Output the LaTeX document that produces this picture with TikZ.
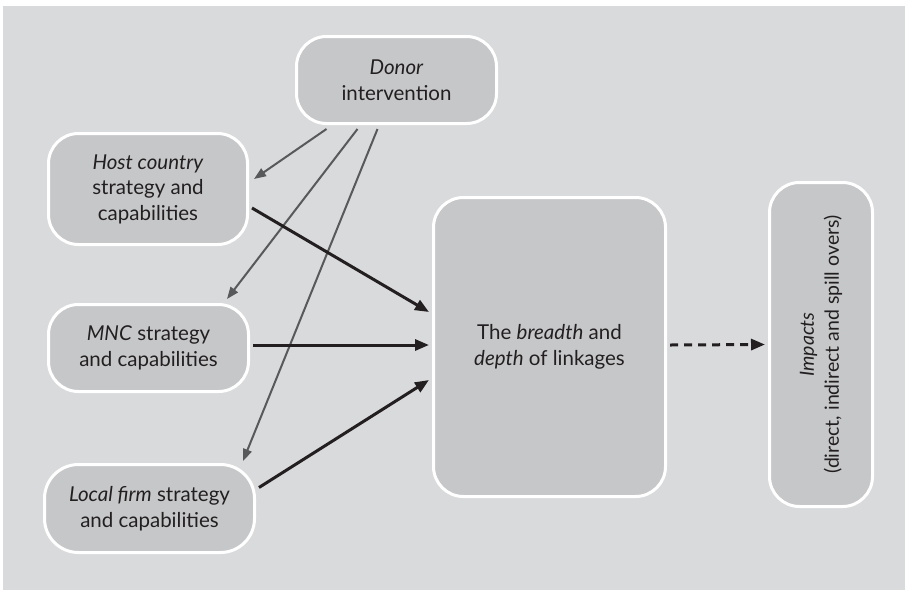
\documentclass[tikz,border=0pt]{standalone}
\usepackage{fontspec}
\setmainfont{Lato}
\usetikzlibrary{arrows.meta,calc}
\definecolor{bg}{HTML}{D9DADC}
\definecolor{boxfill}{HTML}{C6C7C9}
\definecolor{ink}{HTML}{231F20}
\definecolor{thin}{HTML}{58595B}
\begin{document}
\begin{tikzpicture}[x=1pt,y=-1pt,
  box/.style={rectangle, rounded corners=30pt, draw=white, line width=3pt, fill=boxfill,
    text=ink, align=center, inner sep=0pt, font=\fontsize{20.5}{25.5}\selectfont},
  thinarrow/.style={draw=thin, line width=2pt, -{Triangle[length=12pt,width=9pt]}},
  thickarrow/.style={draw=ink, line width=3pt, -{Triangle[length=14pt,width=11pt]}},
  dasharrow/.style={draw=ink, line width=3pt, dash pattern=on 8pt off 6pt,
    -{Triangle[length=14pt,width=11pt]}}]
\useasboundingbox (0,0) rectangle (905,590);
\fill[white] (0,0) rectangle (905,590);
\fill[bg] (3,6) rectangle (905,590);

\node[box, minimum width=200pt, minimum height=87pt] (donor) at (396.5,80)
  {\textit{Donor}\\intervention};
\node[box, minimum width=199pt, minimum height=111pt] (host) at (148,189)
  {\textit{Host country}\\strategy and\\capabilities};
\node[box, minimum width=200pt, minimum height=87pt] (mnc) at (148.5,348)
  {\textit{MNC} strategy\\and capabilities};
\node[box, minimum width=210pt, minimum height=88pt, rounded corners=34pt] (local) at (149.5,508.5)
  {\textit{Local firm} strategy\\and capabilities};
\node[box, minimum width=232pt, minimum height=299pt] (centre) at (549.5,347)
  {The \textit{breadth} and\\\textit{depth} of linkages};
\node[box, minimum width=103pt, minimum height=324pt] (impacts) at (821,344.5) {};
\node[text=ink, align=center, rotate=90, inner sep=0pt, font=\fontsize{19.5}{25}\selectfont]
  (impactstext) at (impacts.center) {\textit{Impacts}\\(direct, indirect and spill overs)};

\draw[thinarrow] ($(donor.south)+(-70,4)$) -- ($(host.east)+(5,-10)$);
\draw[thinarrow] ($(donor.south)+(-39,4)$) -- ($(mnc.north)+(78.5,-4)$);
\draw[thinarrow] ($(donor.south)+(-19,4)$) -- ($(local.north)+(93.5,-2)$);

\draw[thickarrow] ($(host.east)+(3,19)$) -- ($(centre.west)+(-3,-35)$);
\draw[thickarrow] ($(mnc.east)+(3,-3)$) -- ($(centre.west)+(-3,-2)$);
\draw[thickarrow] ($(local.east)+(3,-21)$) -- ($(centre.west)+(-3,33)$);
\draw[dasharrow] ($(centre.east)+(3,-2)$) -- ($(impacts.west)+(-3,0)$);
\end{tikzpicture}
\end{document}
